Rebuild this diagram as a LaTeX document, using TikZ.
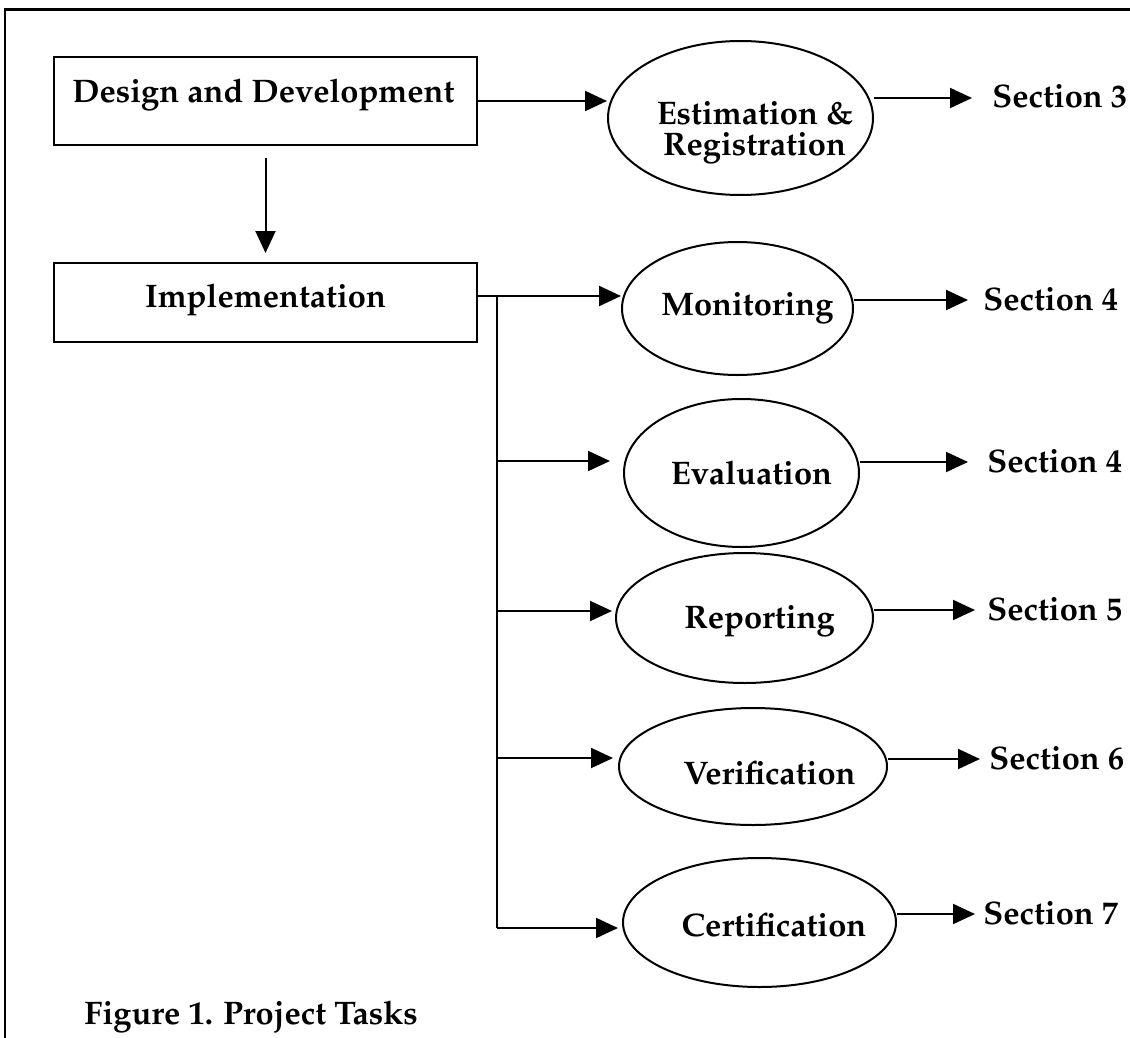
\documentclass[tikz,border=0pt]{standalone}
\usepackage[T1]{fontenc}
\renewcommand\rmdefault{ppl}
\usetikzlibrary{arrows.meta,shapes.geometric}
\begin{document}
\begin{tikzpicture}[x=0.5pt,y=-0.5pt,
  every node/.style={font=\fontsize{16.3}{17.5}\selectfont\bfseries},
  boxn/.style={draw,line width=1pt,minimum width=211.5pt,inner sep=0pt},
  elln/.style={draw,ellipse,line width=1pt,inner sep=0pt},
  txt/.style={inner sep=0pt,anchor=base},
  secn/.style={inner sep=0pt,anchor=west,text height=10pt,text depth=0pt},
  arr/.style={line width=1pt,-{Triangle[length=11pt,width=10pt]}},
  ln/.style={line width=1pt}]
\useasboundingbox (0,0) rectangle (1130,1038);
% frame
\draw[line width=1.2pt] (5,1038) -- (5,9.5) -- (1131,9.5);
% boxes
\node[boxn,minimum height=44pt,label={[txt,name=ddT,xshift=-1pt,yshift=3pt]center:{Design and Development}}] (dd) at (265.5,101) {};
\node[boxn,minimum height=39.5pt,label={[txt,name=implT,yshift=1.25pt]center:{Implementation}}] (impl) at (265.5,302.5) {};
% ellipses
\node[elln,minimum width=132.5pt,minimum height=77pt,
  label={[txt,name=estT1,xshift=7.25pt,yshift=2.5pt]center:{Estimation \&}},
  label={[txt,name=estT2,xshift=7pt,yshift=-15pt]center:{Registration}}] (est) at (740.5,118) {};
\node[elln,minimum width=115.5pt,minimum height=66.5pt,
  label={[txt,name=monT,xshift=5pt]center:{Monitoring}}] (mon) at (737.5,308.5) {};
\node[elln,minimum width=117.5pt,minimum height=74pt,
  label={[txt,name=evalT,xshift=5pt,yshift=0.25pt]center:{Evaluation}}] (eval) at (741.5,473) {};
\node[elln,minimum width=128.5pt,minimum height=65pt,
  label={[txt,name=repT,xshift=7.5pt,yshift=-1.5pt]center:{Reporting}}] (rep) at (744.5,618) {};
\node[elln,minimum width=134pt,minimum height=58.5pt,
  label={[txt,name=verT,xshift=8.25pt,yshift=-3.25pt]center:{Verification}}] (ver) at (753,766.5) {};
\node[elln,minimum width=136.5pt,minimum height=64.5pt,
  label={[txt,name=certT,xshift=7.25pt,yshift=-1.25pt]center:{Certification}}] (cert) at (759.5,922.5) {};
% section labels
\node[secn] (s3) at (992,98) {Section 3};
\node[secn] (s4a) at (983,300) {Section 4};
\node[secn] (s4b) at (987,462) {Section 4};
\node[secn] (s5) at (987,610) {Section 5};
\node[secn] (s6) at (989,759) {Section 6};
\node[secn] (s7) at (983,914) {Section 7};
% caption
\node[txt,anchor=base west] (cap) at (84,1024) {Figure 1. Project Tasks};
% connectors
\draw[arr] (dd.east) -- (dd.east -| est.west);
\draw[arr,shorten <=6pt,shorten >=4.5pt] (dd.south) -- (impl.north);
\coordinate (br) at (497,296);
\coordinate (b2) at (497,461);
\coordinate (b3) at (497,611);
\coordinate (b4) at (497,758);
\coordinate (b5) at (497,928);
\draw[arr] (impl.east |- br) -- (mon.west |- br);
\draw[ln] (br) -- (b5);
\draw[arr,shorten >=6.5pt] (b2) -- (eval.west |- b2);
\draw[arr,shorten >=1.5pt] (b3) -- (rep.west |- b3);
\draw[arr,shorten >=2.5pt] (b4) -- (ver.west |- b4);
\draw[arr,shorten >=2pt] (b5) -- (cert.west |- b5);
\draw[arr,shorten >=10pt] (est.east |- s3.west) -- (s3.west);
\draw[arr,shorten >=7.5pt] (mon.east |- s4a.west) -- (s4a.west);
\draw[arr,shorten >=9.5pt] (eval.east |- s4b.west) -- (s4b.west);
\draw[arr,shorten >=6pt] (rep.east |- s5.west) -- (s5.west);
\draw[arr,shorten >=4.5pt] (ver.east |- s6.west) -- (s6.west);
\draw[arr,shorten >=4pt] (cert.east |- s7.west) -- (s7.west);
\end{tikzpicture}
\end{document}
